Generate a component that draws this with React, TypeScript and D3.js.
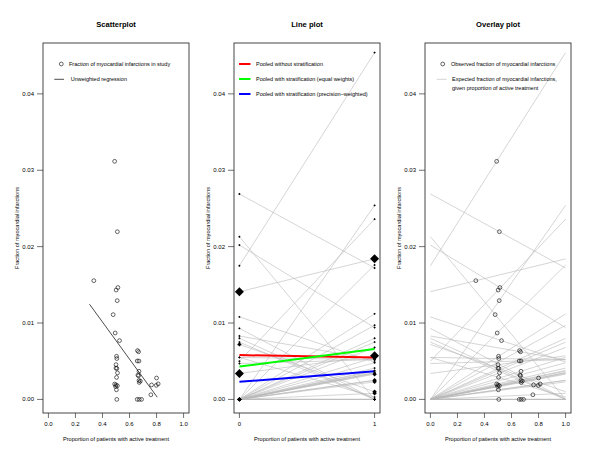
import React from "react";
import * as d3 from "d3";

// ---- data ----
const propActive = [0.49,0.51,0.336,0.514,0.501,0.509,0.479,0.494,0.526,0.659,0.667,0.504,0.506,0.657,0.67,0.5,0.5,0.506,0.511,0.67,0.504,0.662,0.667,0.67,0.68,0.672,0.49,0.5,0.51,0.497,0.503,0.8,0.812,0.798,0.763,0.758,0.506,0.657,0.672,0.689];
const ctrlFrac = [0.0175,0.0269,0.0141,0.0202,0.005,0,0.0213,0,0.0108,0,0.0083,0,0.0055,0.0047,0,0.0034,0.0072,0,0,0,0.0055,0,0.0093,0,0.0075,0,0,0,0,0,0,0,0,0,0.008,0,0,0,0,0];
const trtFrac = [0.0454,0.0172,0.0184,0.0094,0.0236,0.0254,0,0.0176,0.0049,0.0097,0.0052,0.0112,0.0052,0.0052,0.0075,0.0057,0.001,0.008,0.0068,0.0055,0.0003,0.0048,0,0.0037,0,0.0033,0.0041,0.0038,0.0035,0.0034,0.0025,0.0035,0.0025,0.0023,0,0.0008,0,0,0,0];
const studyWeight = [1,1,4,1,1,1,1,1,1,1,1,1,1,1,1,4,2,1,1,1,1,1,1,1,1,2,1,1,1,1,2,1,1,2,1,2,1,1,1,1];

const regCoef = [0.01985, -0.0243]; // intercept, slope (unweighted regression)
const regRange = [0.304, 0.805];

const pooledNames = ["Pooled without stratification", "Pooled with stratification (equal weights)", "Pooled with stratification (precision\u2013weighted)"];
const pooledP0 = [0.0058, 0.0043, 0.0023];
const pooledP1 = [0.0055, 0.0066, 0.0037];
const pooledColors = ["#ff0000", "#00ff00", "#0000ff"];

const titles = ["Scatterplot", "Line plot", "Overlay plot"];
const yTicks = [0, 0.01, 0.02, 0.03, 0.04];
const xTicksFull = [0, 0.2, 0.4, 0.6, 0.8, 1.0];
const xTicksLine = [0, 1];
const xLabel = "Proportion of patients with active treatment";
const yLabel = "Fraction of myocardial infarctions";

const W = 600, H = 464;
const lefts = [43, 234, 425];
const PW = 146, TOP = 43, BOT = 413;
const font = "Liberation Sans, Arial, Helvetica, sans-serif";

const observed = propActive.map((x, i) => ctrlFrac[i] + x * (trtFrac[i] - ctrlFrac[i]));

function diamond(cx: number, cy: number, r: number) {
  return `M${cx},${cy - r}L${cx + r},${cy}L${cx},${cy + r}L${cx - r},${cy}Z`;
}
const diamondR = (w: number) => (w === 4 ? 4.5 : w === 2 ? 2.2 : 1.2);

function Panel({ idx }: { idx: number }) {
  const L = lefts[idx];
  const x = d3.scaleLinear().domain([-0.04, 1.04]).range([L, L + PW]);
  const y = d3.scaleLinear().domain([-0.00178, 0.04666]).range([BOT, TOP]);
  const xt = idx === 1 ? xTicksLine : xTicksFull;
  const fmtX = idx === 1 ? d3.format("d") : d3.format(".1f");
  const fmtY = d3.format(".2f");
  const cx = L + PW / 2;
  const line = d3.line<[number, number]>().x(d => x(d[0])).y(d => y(d[1]));

  return (
    <g>
      <text x={cx} y={27} textAnchor="middle" fontFamily={font} fontWeight="bold" fontSize={7.6}>{titles[idx]}</text>
      {yTicks.map(t => (
        <g key={"y" + t}>
          <line x1={L - 6} x2={L} y1={y(t)} y2={y(t)} stroke="#333" strokeWidth={0.7} />
          <text x={L - 9} y={y(t) + 2} textAnchor="end" fontFamily={font} fontSize={6}>{fmtY(t)}</text>
        </g>
      ))}
      <text transform={`translate(${L - 24},${(TOP + BOT) / 2}) rotate(-90)`} textAnchor="middle" fontFamily={font} fontSize={5.6}>{yLabel}</text>
      {xt.map(t => (
        <g key={"x" + t}>
          <line x1={x(t)} x2={x(t)} y1={BOT} y2={BOT + 5} stroke="#333" strokeWidth={0.7} />
          <text x={x(t)} y={BOT + 13} textAnchor="middle" fontFamily={font} fontSize={6}>{fmtX(t)}</text>
        </g>
      ))}
      <text x={cx} y={BOT + 28} textAnchor="middle" fontFamily={font} fontSize={5.6}>{xLabel}</text>

      {idx === 0 && (
        <g>
          {propActive.map((p, i) => (
            <circle key={i} cx={x(p)} cy={y(observed[i])} r={1.9} fill="none" stroke="#000" strokeWidth={0.6} />
          ))}
          <path d={line(regRange.map(v => [v, regCoef[0] + regCoef[1] * v] as [number, number])) || ""} stroke="#000" strokeWidth={0.7} fill="none" />
          <circle cx={L + 18.3} cy={64} r={1.9} fill="none" stroke="#000" strokeWidth={0.6} />
          <text x={L + 26} y={66} fontFamily={font} fontSize={5.5}>Fraction of myocardial infarctions in study</text>
          <line x1={L + 11.3} x2={L + 21} y1={79.3} y2={79.3} stroke="#000" strokeWidth={0.7} />
          <text x={L + 27.7} y={81.3} fontFamily={font} fontSize={5.5}>Unweighted regression</text>
        </g>
      )}

      {idx === 1 && (
        <g>
          {propActive.map((_, i) => (
            <path key={"l" + i} d={line([[0, ctrlFrac[i]], [1, trtFrac[i]]]) || ""} stroke="#b8b8b8" strokeWidth={0.6} fill="none" />
          ))}
          {pooledNames.map((_, k) => (
            <path key={"p" + k} d={line([[0, pooledP0[k]], [1, pooledP1[k]]]) || ""} stroke={pooledColors[k]} strokeWidth={2} fill="none" />
          ))}
          {propActive.map((_, i) => (
            <g key={"d" + i}>
              <path d={diamond(x(0), y(ctrlFrac[i]), diamondR(studyWeight[i]))} fill="#000" />
              <path d={diamond(x(1), y(trtFrac[i]), diamondR(studyWeight[i]))} fill="#000" />
            </g>
          ))}
          {pooledNames.map((n, k) => (
            <g key={"lg" + k}>
              <line x1={L + 5} x2={L + 16.5} y1={64 + 15 * k} y2={64 + 15 * k} stroke={pooledColors[k]} strokeWidth={2} />
              <text x={L + 22} y={66 + 15 * k} fontFamily={font} fontSize={5.5}>{n}</text>
            </g>
          ))}
        </g>
      )}

      {idx === 2 && (
        <g>
          {propActive.map((_, i) => (
            <path key={"l" + i} d={line([[0, ctrlFrac[i]], [1, trtFrac[i]]]) || ""} stroke="#b8b8b8" strokeWidth={0.6} fill="none" />
          ))}
          {propActive.map((p, i) => (
            <circle key={i} cx={x(p)} cy={y(observed[i])} r={1.9} fill="none" stroke="#000" strokeWidth={0.6} />
          ))}
          <circle cx={L + 17.7} cy={64} r={1.9} fill="none" stroke="#000" strokeWidth={0.6} />
          <text x={L + 26} y={66} fontFamily={font} fontSize={5.5}>Observed fraction of myocardial infarctions</text>
          <line x1={L + 11.7} x2={L + 21.7} y1={79.3} y2={79.3} stroke="#b8b8b8" strokeWidth={0.6} />
          <text x={L + 27} y={81.3} fontFamily={font} fontSize={5.5}>Expected fraction of myocardial infarctions,</text>
          <text x={L + 27} y={89.7} fontFamily={font} fontSize={5.5}>given proportion of active treatment</text>
        </g>
      )}

      <rect x={L} y={TOP} width={PW} height={BOT - TOP} fill="none" stroke="#333" strokeWidth={0.9} />
    </g>
  );
}

export default function App() {
  return (
    <svg width={W} height={H} style={{ position: "absolute", left: 0, top: 0, background: "#fff" }}>
      <rect width={W} height={H} fill="#fff" />
      {[0, 1, 2].map(i => <Panel key={i} idx={i} />)}
    </svg>
  );
}
